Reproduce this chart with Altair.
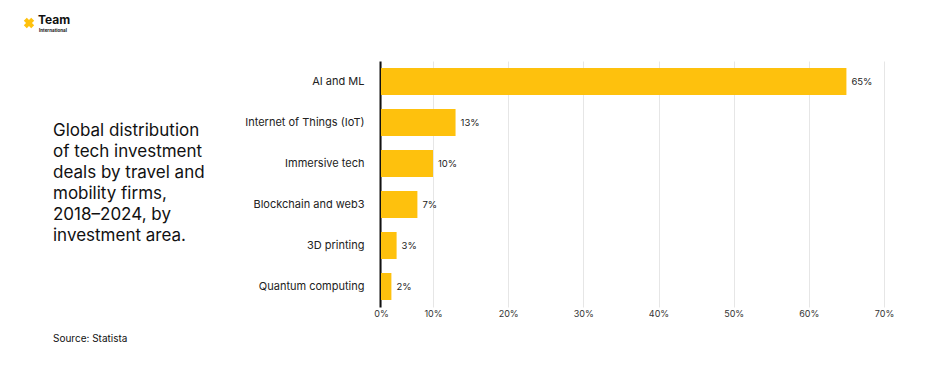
import altair as alt
import pandas as pd

categories = ["AI and ML", "Internet of Things (IoT)", "Immersive tech",
              "Blockchain and web3", "3D printing", "Quantum computing"]
values = [65, 13, 10, 7, 3, 2]
tick_values = [0, 10, 20, 30, 40, 50, 60, 70]

title_text = ["Global distribution", "of tech investment", "deals by travel and",
              "mobility firms,", "2018\u20132024, by", "investment area."]
source_text = "Source: Statista"

df = pd.DataFrame({"area": categories, "share": values,
                   "label": [f"{v}%" for v in values]})

FONT = "Inter"
YELLOW = "#FEC10D"

xscale = alt.Scale(domain=[0, 10, 70], range=[1, 53, 504])
yenc = alt.Y("area:N", sort=categories,
             scale=alt.Scale(paddingInner=0.34, paddingOuter=0.17),
             axis=alt.Axis(title=None, labelFont=FONT, labelFontSize=11,
                           labelColor="#222", labelPadding=16, ticks=False,
                           domainColor="#111", domainWidth=2, labelLimit=300))

bars = alt.Chart(df).mark_bar(color=YELLOW).encode(
    x=alt.X("share:Q", scale=xscale,
            axis=alt.Axis(title=None, values=tick_values, labelExpr="datum.value + '%'",
                          labelFont=FONT, labelFontSize=9, labelColor="#333",
                          ticks=False, domain=False, grid=True, gridColor="#e6e6e6",
                          labelPadding=2, labelFlush=False)),
    y=yenc,
)

labels = alt.Chart(df).mark_text(align="left", dx=5, font=FONT, fontSize=9.5,
                                 color="#222").encode(
    x=alt.X("share:Q", scale=xscale), y=alt.Y("area:N", sort=categories), text="label:N")

one = alt.Data(values=[{"a": 1}])

title = alt.Chart(one).mark_text(align="left", baseline="top", font=FONT, fontSize=17,
                                 lineHeight=21, color="#111").encode(
    x=alt.value(-327), y=alt.value(62), text=alt.value(title_text))

source = alt.Chart(one).mark_text(align="left", baseline="middle", font=FONT,
                                  fontSize=10, color="#111").encode(
    x=alt.value(-327), y=alt.value(278), text=alt.value(source_text))

logo_icon = alt.Chart(one).mark_point(shape="cross", filled=True, color=YELLOW,
                                      angle=45, size=110, opacity=1).encode(
    x=alt.value(-351), y=alt.value(-38))

logo_team = alt.Chart(one).mark_text(align="left", baseline="middle", font=FONT,
                                     fontSize=12, fontWeight="bold",
                                     color="#111").encode(
    x=alt.value(-342), y=alt.value(-41), text=alt.value("Team"))

logo_intl = alt.Chart(one).mark_text(align="left", baseline="middle", font=FONT,
                                     fontSize=4.5, fontWeight="bold",
                                     color="#111").encode(
    x=alt.value(-341), y=alt.value(-30.5), text=alt.value("International"))

chart = alt.layer(bars, labels, title, source, logo_icon, logo_team, logo_intl).properties(
    width=504, height=246,
    padding={"left": 380, "top": 61, "right": 42, "bottom": 69},
    autosize=alt.AutoSizeParams(type="none"),
    background="white",
).configure_view(stroke=None)

chart.save("out.html", embed_options={"renderer": "svg", "actions": False})
